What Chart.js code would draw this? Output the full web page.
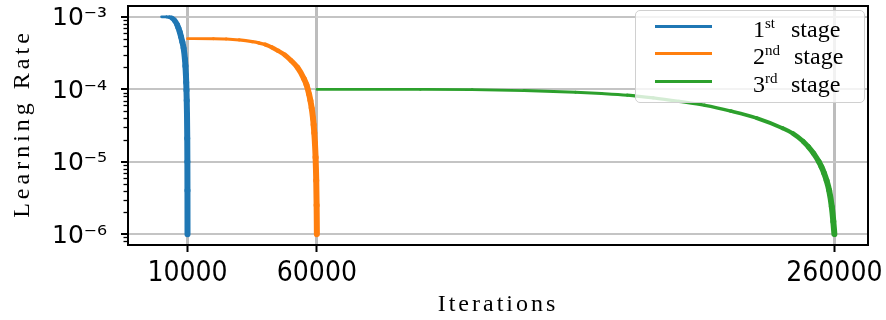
<!DOCTYPE html>
<html><head><meta charset="utf-8">
<script src="https://cdn.jsdelivr.net/npm/chart.js@4.4.0/dist/chart.umd.min.js"></script>
<style>
html,body{margin:0;padding:0;background:#fff;}
#wrap{position:relative;width:886px;height:320px;}
canvas{display:block;}
#legend{position:absolute;left:635px;top:10px;width:230px;height:93px;box-sizing:border-box;border:1.5px solid #d0d0d0;border-radius:5px;background:rgba(255,255,255,0.8);font-family:"Liberation Serif","Times New Roman",serif;font-size:24px;color:#000;}
.sw{position:absolute;left:19px;width:57px;height:3px;}
.lab{position:absolute;left:117px;white-space:nowrap;line-height:24px;height:24px;}
.lab sup{font-size:15px;line-height:15px;vertical-align:top;position:relative;top:-1px;}
.stg{position:absolute;left:155px;white-space:nowrap;line-height:24px;}
</style></head>
<body>
<div id="wrap">
<canvas id="c" width="886" height="320"></canvas>
<div id="legend"></div>
</div>
<script>
// ---- data ----
const stageNames = ['1', '2', '3'];
const stageSups = ['st', 'nd', 'rd'];
const stageWord = 'stage';
const colors = ['#1f77b4', '#ff7f0e', '#2ca02c'];

const stage1X = [0, 2000, 3000, 4000, 5000, 6000, 6500, 7000, 7500, 8000, 8500, 9000, 9200, 9400, 9500, 9600, 9700, 9800, 9900, 9950, 9980, 10000];
const stage1Y = [1.0e-3, 9.98e-4, 9.9e-4, 9.6e-4, 8.9e-4, 7.8e-4, 7.0e-4, 6.2e-4, 5.3e-4, 4.5e-4, 3.7e-4, 2.6e-4, 2.1e-4, 1.55e-4, 1.25e-4, 9.7e-5, 7.0e-5, 4.5e-5, 2.1e-5, 1.0e-5, 4.0e-6, 1.0e-6];

const stage2X = [10000, 20000, 25000, 30000, 35000, 37500, 40000, 42500, 45000, 47500, 50000, 52500, 55000, 56000, 57000, 57500, 58000, 58500, 58750, 59000, 59250, 59500, 59750, 59900, 60000];
const stage2Y = [5.0e-4, 4.99e-4, 4.95e-4, 4.8e-4, 4.55e-4, 4.38e-4, 4.15e-4, 3.8e-4, 3.4e-4, 3.0e-4, 2.5e-4, 2.0e-4, 1.4e-4, 1.15e-4, 8.5e-5, 7.0e-5, 5.5e-5, 4.0e-5, 3.25e-5, 2.5e-5, 1.8e-5, 1.15e-5, 5.5e-6, 2.5e-6, 1.0e-6];

const stage3X = [60000, 100000, 120000, 140000, 160000, 170000, 180000, 190000, 200000, 210000, 220000, 230000, 240000, 244000, 248000, 250000, 252000, 254000, 255000, 256000, 257000, 258000, 259000, 259600, 260000];
const stage3Y = [1.0e-4, 9.98e-5, 9.9e-5, 9.6e-5, 9.1e-5, 8.75e-5, 8.3e-5, 7.6e-5, 6.8e-5, 6.0e-5, 5.0e-5, 4.0e-5, 2.9e-5, 2.45e-5, 1.9e-5, 1.6e-5, 1.3e-5, 1.0e-5, 8.5e-6, 7.0e-6, 5.5e-6, 4.0e-6, 2.4e-6, 1.5e-6, 1.0e-6];

const xTickValues = [10000, 60000, 260000];
const yTickValues = [1e-6, 1e-5, 1e-4, 1e-3];
const yTickLabels = ['10\u207B\u2076', '10\u207B\u2075', '10\u207B\u2074', '10\u207B\u00B3'];
const xTitle = 'Iterations';
const yTitle = 'Learning Rate';

// ---- legend (HTML, superscripts) ----
const legendEl = document.getElementById('legend');
const rowSwatchTop = [14, 41, 69];
const rowLabelTop = [6, 33, 61];
stageNames.forEach((n, i) => {
  const sw = document.createElement('div');
  sw.className = 'sw'; sw.style.top = rowSwatchTop[i] + 'px'; sw.style.background = colors[i];
  legendEl.appendChild(sw);
  const lab = document.createElement('div');
  lab.className = 'lab'; lab.style.top = rowLabelTop[i] + 'px';
  lab.innerHTML = n + '<sup>' + stageSups[i] + '</sup>';
  legendEl.appendChild(lab);
  const st = document.createElement('div');
  st.className = 'stg'; st.style.top = rowLabelTop[i] + 'px';
  st.style.left = (i === 1 ? 158 : 155) + 'px';
  st.textContent = stageWord;
  legendEl.appendChild(st);
});

function pts(xs, ys) { return xs.map((x, i) => ({ x: x, y: ys[i] })); }
const segW = {
  borderWidth: c => {
    const dx = c.p1.x - c.p0.x, dy = c.p1.y - c.p0.y;
    const h = Math.hypot(dx, dy) || 1;
    return 2.8 + 3.2 * Math.abs(dy) / h;
  }
};

const minorTicks = [];
for (let e = -7; e <= -3; e++) for (let m = 2; m <= 9; m++) minorTicks.push(m * Math.pow(10, e));

function noPad(s) { s.paddingTop = 0; s.paddingBottom = 0; s.paddingLeft = 0; s.paddingRight = 0; }

const deco = {
  id: 'deco',
  afterDatasetsDraw(chart) {
    const { ctx, chartArea: a, scales: { y } } = chart;
    ctx.save();
    ctx.strokeStyle = '#000';
    ctx.lineWidth = 1.3;
    for (const v of minorTicks) {
      if (v < y.min || v > y.max) continue;
      const py = Math.round(y.getPixelForValue(v)) + 0.5;
      ctx.beginPath(); ctx.moveTo(a.left - 4.5, py); ctx.lineTo(a.left, py); ctx.stroke();
    }
    ctx.lineWidth = 2;
    ctx.strokeRect(a.left, a.top, a.right - a.left, a.bottom - a.top);
    ctx.fillStyle = '#000';
    ctx.font = '24px "Liberation Serif", "Times New Roman", serif';
    ctx.textAlign = 'center';
    ctx.textBaseline = 'alphabetic';
    try { ctx.letterSpacing = '3px'; } catch (e) {}
    ctx.fillText(xTitle, (a.left + a.right) / 2, 311);
    ctx.translate(29, (a.top + a.bottom) / 2);
    ctx.rotate(-Math.PI / 2);
    try { ctx.letterSpacing = '4px'; } catch (e) {}
    ctx.fillText(yTitle, 2, 0);
    ctx.restore();
  }
};

new Chart(document.getElementById('c'), {
  type: 'line',
  data: {
    datasets: [
      { data: pts(stage1X, stage1Y), borderColor: colors[0] },
      { data: pts(stage2X, stage2Y), borderColor: colors[1] },
      { data: pts(stage3X, stage3Y), borderColor: colors[2] }
    ].map(d => Object.assign(d, {
      borderWidth: 3, pointRadius: 0, pointHoverRadius: 0, fill: false,
      cubicInterpolationMode: 'monotone', borderCapStyle: 'round', borderJoinStyle: 'round',
      segment: segW
    }))
  },
  options: {
    responsive: false, animation: false, devicePixelRatio: 1,
    layout: { padding: { left: 0, right: 18, top: 6, bottom: 0 } },
    plugins: { legend: { display: false }, tooltip: { enabled: false } },
    scales: {
      x: {
        type: 'linear', min: -13000, max: 273000, bounds: 'data',
        afterBuildTicks: s => { s.ticks = xTickValues.map(v => ({ value: v })); },
        afterFit: s => { s.height = 75; noPad(s); },
        ticks: {
          autoSkip: false, maxRotation: 0, padding: 5, color: '#000',
          font: { family: '"DejaVu Sans Condensed", "DejaVu Sans", sans-serif', size: 28 },
          callback: v => String(v)
        },
        grid: { color: '#bdbdbd', lineWidth: 3, tickLength: 7, tickColor: '#000', tickWidth: 2, drawTicks: true },
        border: { display: false }
      },
      y: {
        type: 'logarithmic', min: 7.08e-7, max: 1.4125e-3, bounds: 'data',
        afterBuildTicks: s => { s.ticks = yTickValues.map(v => ({ value: v, major: true })); },
        afterFit: s => { s.width = 128; noPad(s); },
        ticks: {
          autoSkip: false, padding: 14, labelOffset: 2, color: '#000',
          font: { family: '"DejaVu Sans", sans-serif', size: 25 },
          callback: (v, i) => yTickLabels[i]
        },
        grid: { color: '#c4c4c4', lineWidth: 2, tickLength: 7, tickColor: '#000', tickWidth: 2, drawTicks: true },
        border: { display: false }
      }
    }
  },
  plugins: [deco]
});
</script>
</body></html>
